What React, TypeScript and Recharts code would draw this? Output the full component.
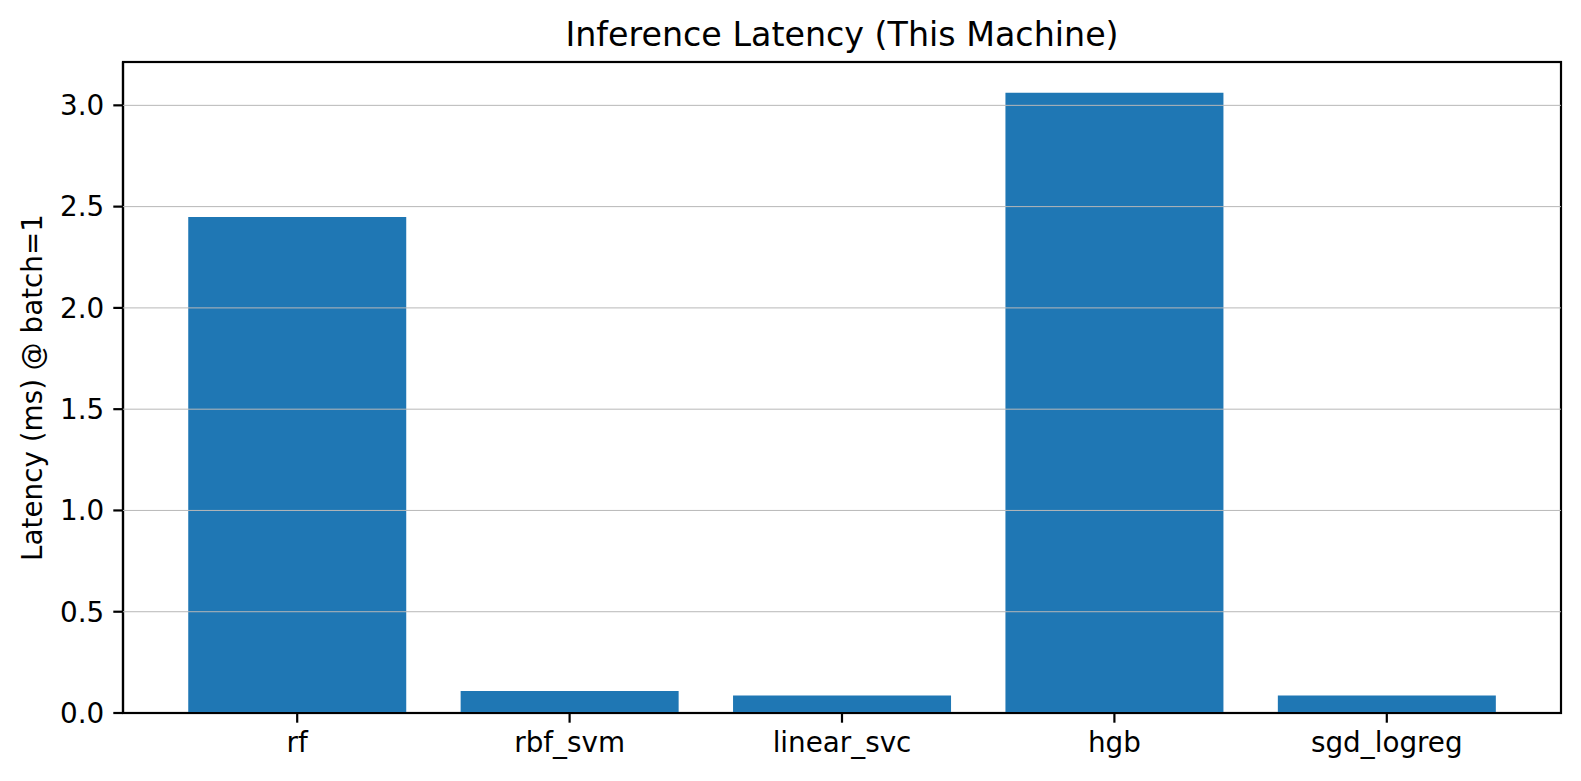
import { BarChart, Bar, XAxis, YAxis, ReferenceLine } from 'recharts'

const models = ['rf', 'rbf_svm', 'linear_svc', 'hgb', 'sgd_logreg']
const latencyMs = [2.449, 0.109, 0.087, 3.062, 0.087]
const yTicks = [0, 0.5, 1.0, 1.5, 2.0, 2.5, 3.0]
const yMax = 3.214

const data = models.map((name, i) => ({ name, latency: latencyMs[i] }))

const W = 1581
const H = 781
const M = { top: 62, right: 20, bottom: 0, left: 0 }
const Y_AXIS_W = 123
const X_AXIS_H = 68
const FONT = '"DejaVu Sans", sans-serif'

const tickStyle = { fill: '#000', fontSize: 27.8, fontFamily: FONT }

const YLabel = ({ viewBox }) => {
  const cy = viewBox.y + viewBox.height / 2
  return (
    <text
      x={42}
      y={cy}
      transform={`rotate(-90, 42, ${cy})`}
      textAnchor="middle"
      fill="#000"
      fontSize={27.8}
      fontFamily={FONT}
    >
      Latency (ms) @ batch=1
    </text>
  )
}

export default function App() {
  const plotX = M.left + Y_AXIS_W
  const plotY = M.top
  const plotW = W - M.right - plotX
  const plotH = H - M.bottom - X_AXIS_H - plotY
  return (
    <div style={{ position: 'absolute', left: 0, top: 0, width: W, height: H, background: '#fff' }}>
      <BarChart width={W} height={H} data={data} margin={M} barCategoryGap="10%">
        <XAxis
          dataKey="name"
          height={X_AXIS_H}
          padding={{ left: 38, right: 38 }}
          tick={tickStyle}
          tickSize={9.7}
          tickMargin={10}
          axisLine={{ stroke: '#000', strokeWidth: 2.2 }}
          tickLine={{ stroke: '#000', strokeWidth: 2.2 }}
        />
        <YAxis
          width={Y_AXIS_W}
          domain={[0, yMax]}
          ticks={yTicks}
          allowDataOverflow
          tickFormatter={(v) => v.toFixed(1)}
          tick={tickStyle}
          tickSize={9.7}
          tickMargin={9}
          axisLine={{ stroke: '#000', strokeWidth: 2.2 }}
          tickLine={{ stroke: '#000', strokeWidth: 2.2 }}
          label={<YLabel />}
        />
        <Bar dataKey="latency" fill="#1f77b4" isAnimationActive={false} />
        {yTicks
          .filter((t) => t > 0)
          .map((t) => (
            <ReferenceLine key={t} y={t} stroke="#b8b8b8" strokeWidth={1} zIndex={1000} />
          ))}
        <rect
          x={plotX}
          y={plotY}
          width={plotW}
          height={plotH}
          fill="none"
          stroke="#000"
          strokeWidth={2.2}
        />
        <text
          x={plotX + plotW / 2}
          y={45.5}
          textAnchor="middle"
          fill="#000"
          fontSize={33.3}
          fontFamily={FONT}
        >
          Inference Latency (This Machine)
        </text>
      </BarChart>
    </div>
  )
}
